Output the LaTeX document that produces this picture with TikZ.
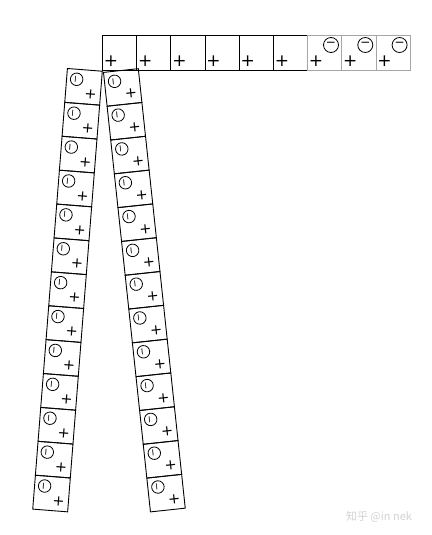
\documentclass[tikz,border=0pt]{standalone}
\usepackage{fontspec}
\newfontfamily\cjk{Noto Sans CJK SC}
\newfontfamily\signfont{DejaVu Sans}
\usetikzlibrary{positioning}

\begin{document}
\begin{tikzpicture}[
    x=1pt, y=-1pt,
    every node/.style={inner sep=0pt},
    cellbox/.style={draw, line width=0.9pt, minimum width=34.2pt, minimum height=34.5pt, anchor=north west},
    stripbox/.style={draw, line width=0.9pt, minimum width=35pt, minimum height=34pt, anchor=north west},
    bigplus/.style={font=\signfont\fontsize{17}{17}\selectfont},
    smallplus/.style={font=\signfont\fontsize{14.5}{14.5}\selectfont},
    bigcirc/.style={circle, draw, line width=0.8pt, minimum size=15pt, font=\signfont\fontsize{12}{12}\selectfont},
    smallcirc/.style={circle, draw, line width=0.8pt, minimum size=12.5pt, font=\signfont\fontsize{9.5}{9.5}\selectfont}
]
    \useasboundingbox (0,0) rectangle (431,535);
    % Top row
    \foreach \i in {1,...,6} {
        \node[cellbox] (p\i) at ({102+34.2*(\i-1)},35) {};
        \node[bigplus] (pp\i) at ({111+34.2*(\i-1)},61) {+};
    }
    \foreach \i in {1,2,3} {
        \node[cellbox, draw=gray!70] (n\i) at ({307+34.3*(\i-1)},35) {};
        \node[bigplus] (np\i) at ({316+34.3*(\i-1)},61) {+};
        \node[bigcirc] (nc\i) at ({331+34.3*(\i-1)},45) {\raisebox{0.5pt}{−}};
    }
    % Left strip
    \begin{scope}[shift={(67,68)}, rotate=-4.5, transform shape]
        \foreach \k in {0,...,12} {
            \node[stripbox] (l\k) at (0,{34*\k}) {};
            \node[smallcirc, rotate=90] (lc\k) at (10.5,{34*\k+10.5}) {−};
            \node[smallplus] (lp\k) at (25.5,{34*\k+24.5}) {+};
        }
    \end{scope}
    % Right strip
    \begin{scope}[shift={(103,72)}, rotate=6.1, transform shape]
        \foreach \k in {0,...,12} {
            \node[stripbox] (r\k) at (0,{34*\k}) {};
            \node[smallcirc, rotate=90] (rc\k) at (10.5,{34*\k+10.5}) {−};
            \node[smallplus] (rp\k) at (25.5,{34*\k+24.5}) {+};
        }
    \end{scope}
    \node[text=gray!35, font=\cjk\fontsize{11}{11}\selectfont] (mark) at (379,517) {知乎 @in nek};
\end{tikzpicture}
\end{document}
